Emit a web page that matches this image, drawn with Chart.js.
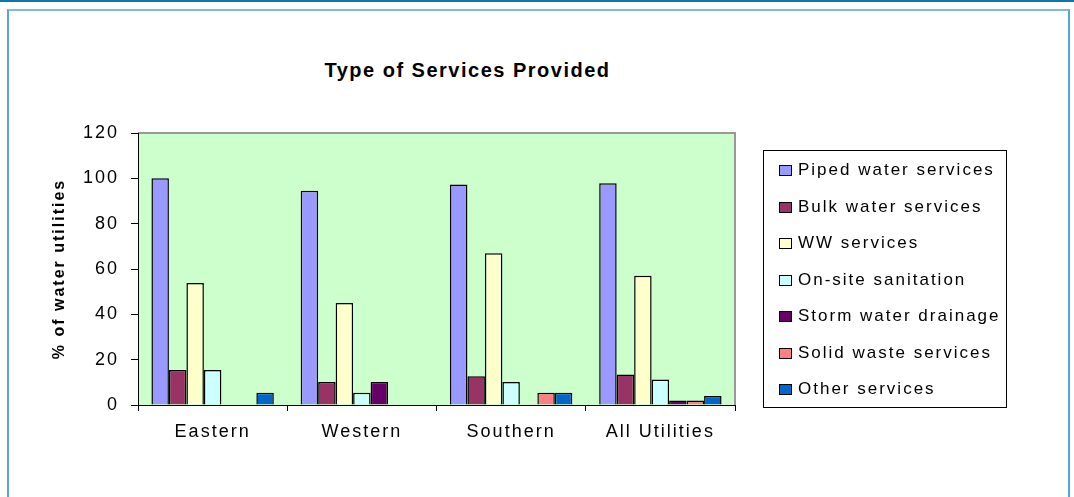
<!DOCTYPE html>
<html>
<head>
<meta charset="utf-8">
<script src="https://cdn.jsdelivr.net/npm/chart.js@4.4.1/dist/chart.umd.min.js"></script>
<style>
  html, body { margin: 0; padding: 0; background: #fff; }
  body { width: 1074px; height: 497px; position: relative; overflow: hidden; font-family: "Liberation Sans", Arial, sans-serif; }
  .topline { position: absolute; left: 0; top: 0; width: 1074px; height: 2px; background: #0b78a8; }
  .frame { position: absolute; left: 7px; top: 9px; width: 1059px; height: 520px; border: 2px solid #55a6d3; border-top-color: #7dbde0; }
  #chart { position: absolute; left: 0; top: 0; }
  .title { position: absolute; left: 0; width: 935px; top: 59px; text-align: center; font-weight: bold; font-size: 20px; letter-spacing: 1.5px; color: #000; }
  .legend { position: absolute; left: 763px; top: 150px; width: 244px; height: 258px; border: 1px solid #000; box-sizing: border-box; }
  .legend-item { position: absolute; left: 8px; height: 20px; font-size: 17px; letter-spacing: 2px; color: #000; white-space: nowrap; }
  .legend-item span.box { position: absolute; left: 7px; top: 5px; width: 11px; height: 9px; border: 1px solid #000; }
  .legend-item span.txt { position: absolute; left: 26px; top: 0; line-height: 20px; }
</style>
</head>
<body>
<div class="topline"></div>
<div class="frame"></div>
<div class="title">Type of Services Provided</div>
<canvas id="chart" width="1074" height="497"></canvas>
<div class="legend" id="legend"></div>
<script>
const categories = ['Eastern', 'Western', 'Southern', 'All Utilities']
const seriesNames = ['Piped water services', 'Bulk water services', 'WW services', 'On-site sanitation', 'Storm water drainage', 'Solid waste services', 'Other services']
const piped = [100, 94.5, 97.3, 97.8]
const bulk = [15.4, 10.1, 12.7, 13.5]
const ww = [53.8, 45, 67, 57]
const onsite = [15.4, 5.4, 10.1, 11.3]
const storm = [0, 10.1, 0, 2]
const solid = [0, 0, 5.4, 2]
const other = [5.4, 0, 5.4, 4]
const colors = ['#9999FF', '#993366', '#FFFFCC', '#CCFFFF', '#660066', '#FF8080', '#0066CC']

const seriesValues = [piped, bulk, ww, onsite, storm, solid, other]

// plot background + gray frame like excel, and wider text spacing
const plotBg = {
  id: 'plotBg',
  beforeLayout: chart => { chart.ctx.letterSpacing = '2px' },
  beforeDraw: chart => {
    const { ctx, chartArea: a } = chart
    ctx.letterSpacing = '2px'
    ctx.save()
    ctx.fillStyle = '#CCFFCC'
    ctx.fillRect(a.left, a.top, a.right - a.left, a.bottom - a.top)
    ctx.strokeStyle = '#999'
    ctx.lineWidth = 2
    ctx.beginPath()
    ctx.moveTo(a.left, a.top)
    ctx.lineTo(a.right, a.top)
    ctx.lineTo(a.right, a.bottom)
    ctx.stroke()
    ctx.restore()
  }
}

let ctx = document.getElementById('chart')
let myChart = new Chart(ctx, {
  type: 'bar',
  data: {
    labels: categories,
    datasets: seriesValues.map((vals, i) => ({
      label: seriesNames[i],
      data: vals,
      backgroundColor: colors[i],
      borderColor: '#000',
      borderWidth: 1.5,
      borderSkipped: 'start'
    }))
  },
  options: {
    responsive: false,
    animation: false,
    devicePixelRatio: 1,
    layout: { padding: { left: 50, right: 339, top: 133, bottom: 0 } },
    categoryPercentage: 0.82,
    barPercentage: 1.0,
    plugins: {
      legend: { display: false },
      tooltip: { enabled: false }
    },
    scales: {
      x: {
        afterFit: scale => { scale.height = 92 },
        grid: { drawOnChartArea: false, drawTicks: true, tickLength: 6, color: '#000', offset: true },
        border: { color: '#000', width: 1 },
        ticks: { color: '#000', padding: 10, font: { family: 'Liberation Sans', size: 18 } }
      },
      y: {
        min: 0,
        max: 120,
        afterFit: scale => { scale.width = 88 },
        grid: { drawOnChartArea: false, drawTicks: true, tickLength: 7, color: '#000' },
        border: { color: '#000', width: 1 },
        ticks: { stepSize: 20, color: '#000', padding: 12, font: { family: 'Liberation Sans', size: 18 } },
        title: {
          display: true,
          text: '% of water utilities',
          color: '#000',
          padding: 0,
          font: { family: 'Liberation Sans', size: 16, weight: 'bold' }
        }
      }
    }
  },
  plugins: [plotBg]
})

// html legend built from the chart datasets
let legendEl = document.getElementById('legend')
myChart.data.datasets.forEach((ds, i) => {
  let item = document.createElement('div')
  item.className = 'legend-item'
  item.style.top = (9 + i * 36.5) + 'px'
  item.innerHTML = '<span class="box" style="background:' + ds.backgroundColor + '"></span><span class="txt">' + ds.label + '</span>'
  legendEl.appendChild(item)
})
</script>
</body>
</html>
